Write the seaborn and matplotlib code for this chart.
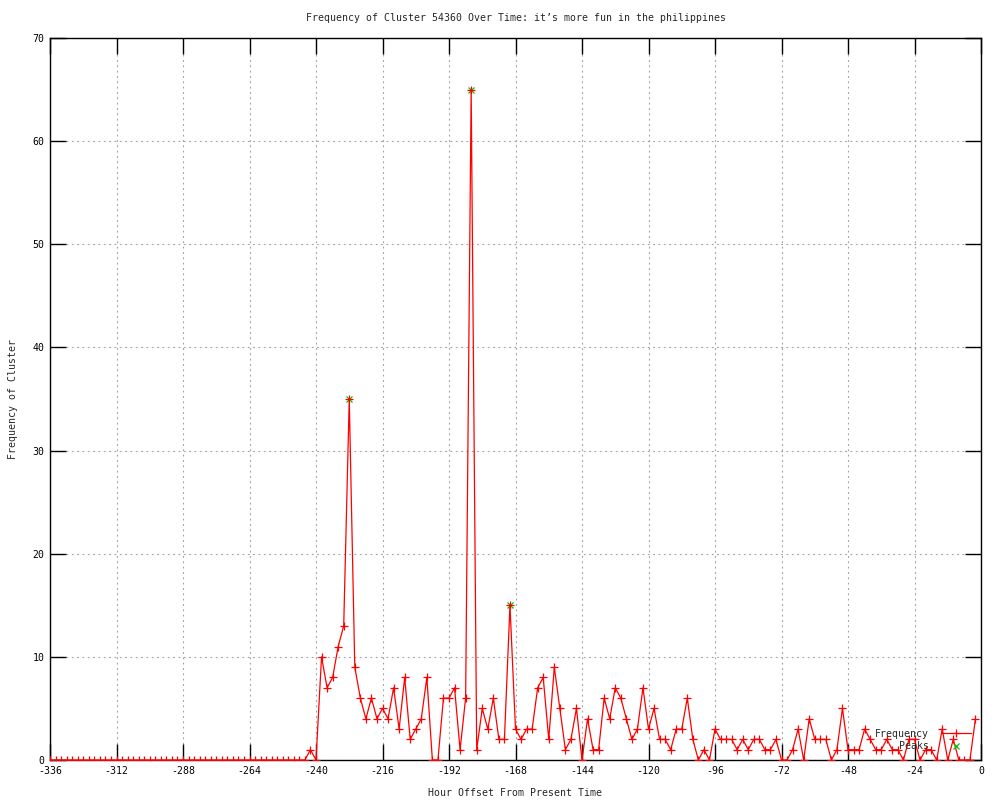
import numpy as np
import pandas as pd
import matplotlib
matplotlib.use("Agg")
import matplotlib.pyplot as plt
import seaborn as sns

# ---- data ----
hours = list(range(-336, 0, 2))
freq_leading_zeros = [0] * 47          # -336 .. -244
freq_active = [
    1, 0, 10, 7, 8, 11, 13, 35, 9, 6, 4, 6,      # -242 .. -220
    4, 5, 4, 7, 3, 8, 2, 3, 4, 8, 0, 0,          # -218 .. -196
    6, 6, 7, 1, 6, 65, 1, 5, 3, 6, 2, 2,         # -194 .. -172
    15, 3, 2, 3, 3, 7, 8, 2, 9, 5, 1, 2,         # -170 .. -148
    5, 0, 4, 1, 1, 6, 4, 7, 6, 4, 2, 3,          # -146 .. -124
    7, 3, 5, 2, 2, 1, 3, 3, 6, 2, 0, 1,          # -122 .. -100
    0, 3, 2, 2, 2, 1, 2, 1, 2, 2, 1, 1,          # -98 .. -76
    2, 0, 0, 1, 3, 0, 4, 2, 2, 2, 0, 1,          # -74 .. -52
    5, 1, 1, 1, 3, 2, 1, 1, 2, 1, 1, 0,          # -50 .. -28
    2, 2, 0, 1, 1, 0, 3, 0, 2, 0, 0, 0,          # -26 .. -4
    4,                                           # -2
]
frequency = freq_leading_zeros + freq_active
assert len(frequency) == len(hours)

peak_hours = [-228, -184, -170]
peak_values = [35, 65, 15]

x_ticks = list(range(-336, 1, 24))
y_ticks = list(range(0, 71, 10))

title = "Frequency of Cluster 54360 Over Time: it\u2019s more fun in the philippines"
x_label = "Hour Offset From Present Time"
y_label = "Frequency of Cluster"

# ---- style ----
sns.set_style("ticks")
plt.rcParams["font.family"] = ["DejaVu Sans Mono", "DejaVu Sans"]
FS = 7.1

fig = plt.figure(figsize=(10, 8), dpi=100)
ax = fig.add_axes([0.05, 0.05, 0.931, 0.9025])

df = pd.DataFrame({"hour": hours, "freq": frequency})
peaks = pd.DataFrame({"hour": peak_hours, "freq": peak_values})

sns.lineplot(data=df, x="hour", y="freq", ax=ax, color="#ff0000", linewidth=0.9,
             marker="+", markersize=5.5, markeredgewidth=0.9, markeredgecolor="#ff0000",
             label="Frequency", zorder=3)
sns.lineplot(data=peaks, x="hour", y="freq", ax=ax, color="#00c000", linestyle="",
             marker="x", markersize=5, markeredgewidth=0.9, markeredgecolor="#00c000",
             label="Peaks", zorder=2)

ax.set_xlim(-336, 0)
ax.set_ylim(0, 70)
ax.set_xticks(x_ticks)
ax.set_yticks(y_ticks)
ax.set_xticklabels([str(t) for t in x_ticks], fontsize=FS)
ax.set_yticklabels([str(t) for t in y_ticks], fontsize=FS)

ax.grid(True, color="#a0a0a0", linestyle=(0, (1.6, 3.2)), linewidth=0.8)
ax.set_axisbelow(True)

for s in ax.spines.values():
    s.set_visible(True)
    s.set_color("black")
    s.set_linewidth(1.0)

ax.tick_params(axis="both", which="major", direction="in", length=11.5, width=1.0,
               top=True, right=True, colors="black", pad=4)

ax.set_title(title, fontsize=FS, pad=12)
ax.set_xlabel(x_label, fontsize=FS)
ax.set_ylabel(y_label, fontsize=FS)
ax.xaxis.set_label_coords(0.5, -0.039)
ax.yaxis.set_label_coords(-0.034, 0.5)

leg = ax.legend(loc="lower right", bbox_to_anchor=(0.989, 0.012), frameon=False,
                markerfirst=False, fontsize=FS, handlelength=3.0, handletextpad=1.2,
                labelspacing=0.25, borderaxespad=0, borderpad=0)

fig.savefig("out.png", dpi=100)
